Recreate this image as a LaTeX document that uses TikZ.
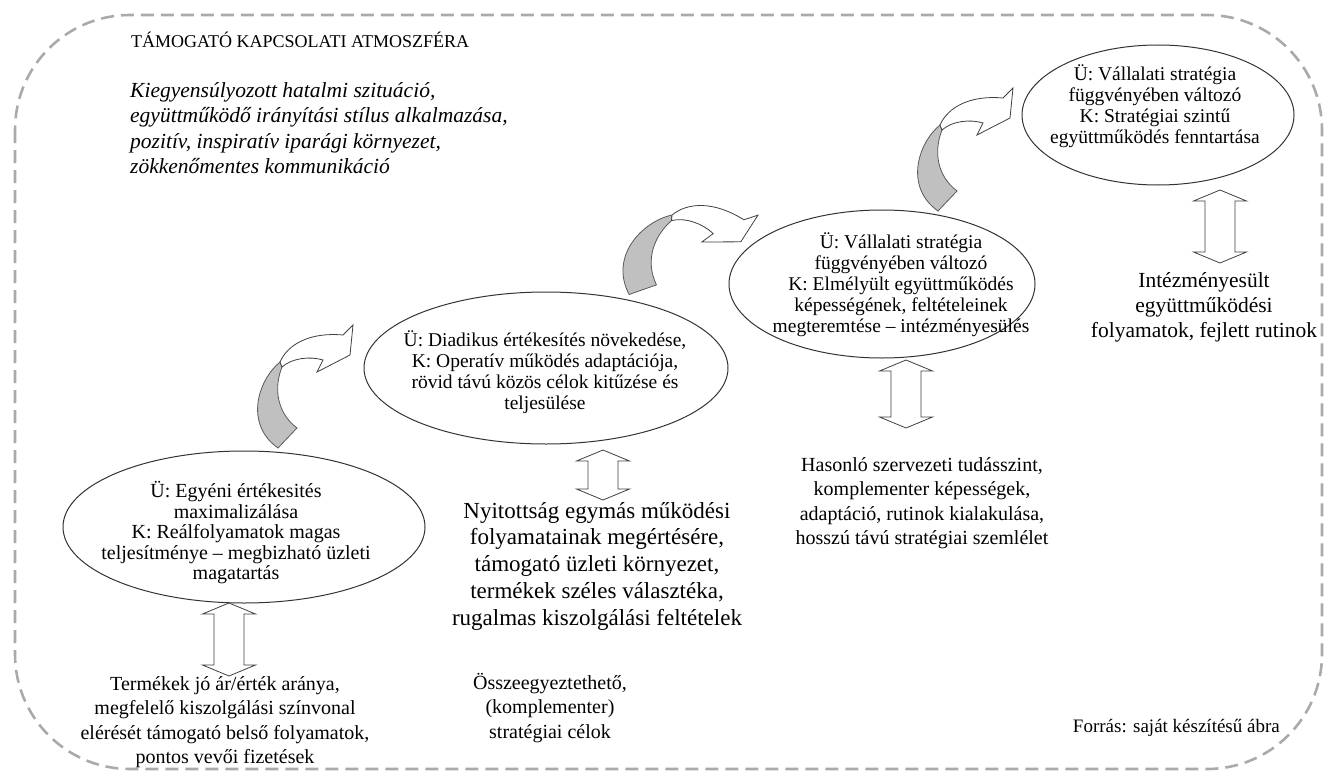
\documentclass[tikz,border=0pt]{standalone}
\usepackage{fontspec}
\setmainfont{Liberation Serif}
\usetikzlibrary{shapes.geometric}
\tikzset{
  ell/.style={draw=black!80, line width=1pt, ellipse, inner sep=0pt},
  etext/.style={align=center, font=\fontsize{19.5}{21}\selectfont, inner sep=0pt},
  btext/.style={align=center, font=\fontsize{20}{24.5}\selectfont, inner sep=0pt},
  arrline/.style={draw=black!75, line width=0.8pt, fill=white},
  grayband/.style={draw=black!65, line width=0.8pt, fill={rgb,255:red,192;green,192;blue,192}},
  curvarr/.pic={
    \path[grayband] (0,0) .. controls (-22,18) and (-36,62) .. (-2,86) -- (17,66)
       .. controls (-4,50) and (-6,25) .. (2,5) -- cycle;
    \path[arrline] (0,0) .. controls (8,-18) and (30,-30) .. (63,-27) -- (73,-37) -- (70,-7)
       -- (37,10) -- (43,-2) .. controls (30,-6) and (12,-4) .. (2,5) -- cycle;
  },
  udarr/.pic={
    \path[arrline] (0,0) -- (26.5,11) -- (15,11) -- (15,#1-11) -- (26.5,#1-11) -- (0,#1)
      -- (-26.5,#1-11) -- (-15,#1-11) -- (-15,11) -- (-26.5,11) -- cycle;
  }
}
\begin{document}
\begin{tikzpicture}[x=1pt,y=-1pt]
\useasboundingbox (0,0) rectangle (1327,773);
% dashed frame
\draw[color={rgb,255:red,170;green,170;blue,170}, line width=2.6pt, dash pattern=on 13pt off 7pt, rounded corners=115pt]
  (15,15) rectangle (1322,769);

% header
\node[anchor=west, inner sep=0pt, font=\fontsize{18}{22}\selectfont] (title) at (131,40) {TÁMOGATÓ KAPCSOLATI ATMOSZFÉRA};
\node[anchor=north west, align=left, inner sep=0pt, font=\itshape\fontsize{21.5}{25.5}\selectfont] (atm) at (130,82)
  {Kiegyensúlyozott hatalmi szituáció,\\együttműködő irányítási stílus alkalmazása,\\pozitív, inspiratív iparági környezet,\\zökkenőmentes kommunikáció};

% ellipses
\node[ell, minimum width=362pt, minimum height=152pt] (e1) at (244,527) {};
\node[etext, font=\fontsize{20}{20.5}\selectfont] (e1t) at (236,533) {Ü: Egyéni értékesités\\maximalizálása\\K: Reálfolyamatok magas\\teljesítménye – megbizható üzleti\\magatartás};

\node[ell, minimum width=364pt, minimum height=152pt] (e2) at (546,368) {};
\node[etext] (e2t) at (545,372) {Ü: Diadikus értékesítés növekedése,\\K: Operatív működés adaptációja,\\rövid távú közös célok kitűzése és\\teljesülése};

\node[ell, minimum width=306pt, minimum height=148pt] (e3) at (882,284) {};
\node[etext] (e3t) at (901,285) {Ü: Vállalati stratégia\\függvényében változó\\K: Elmélyült együttműködés\\képességének, feltételeinek\\megteremtése – intézményesülés};

\node[ell, minimum width=272pt, minimum height=140pt] (e4) at (1158,115) {};
\node[etext] (e4t) at (1155,106) {Ü: Vállalati stratégia\\függvényében változó\\K: Stratégiai szintű\\együttműködés fenntartása};

% curved arrows
\pic at (280,362) {curvarr};
\pic[rotate=-27, scale=1.05] at (672,215) {curvarr};
\pic at (940,125) {curvarr};

% double arrows
\pic at (229,603) {udarr=73};
\pic at (603,450) {udarr=50};
\pic at (906,360) {udarr=68};
\pic at (1220,190) {udarr=73};

% lower texts
\node[btext] (t1) at (225,722) {Termékek jó ár/érték aránya,\\megfelelő kiszolgálási színvonal\\elérését támogató belső folyamatok,\\pontos vevői fizetések};
\node[btext, font=\fontsize{23}{26.75}\selectfont] (t2) at (597,566) {Nyitottság egymás működési\\folyamatainak megértésére,\\támogató üzleti környezet,\\termékek széles választéka,\\rugalmas kiszolgálási feltételek};
\node[btext] (t2b) at (550,708) {Összeegyeztethető,\\(komplementer)\\stratégiai célok};
\node[btext] (t3) at (922,503) {Hasonló szervezeti tudásszint,\\komplementer képességek,\\adaptáció, rutinok kialakulása,\\hosszú távú stratégiai szemlélet};
\node[btext, font=\fontsize{21.5}{25}\selectfont] (t4) at (1204,307) {Intézményesült\\együttműködési\\folyamatok, fejlett rutinok};
\node[anchor=east, inner sep=0pt, font=\fontsize{19}{23}\selectfont] (src) at (1280,728) {Forrás: saját készítésű ábra};
\end{tikzpicture}
\end{document}
